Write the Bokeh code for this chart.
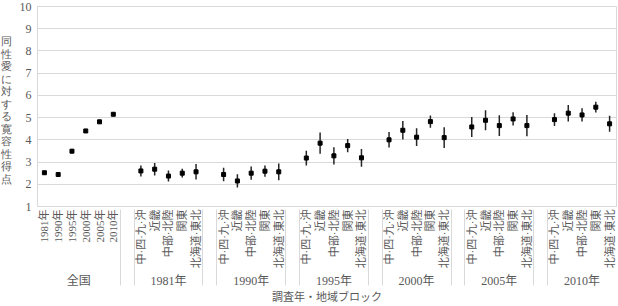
import math
from bokeh.plotting import figure
from bokeh.layouts import row
from bokeh.models import ColumnDataSource, FactorRange, Range1d, FixedTicker
from bokeh.embed import file_html
from bokeh.resources import INLINE

# ---- data ----
national_labels = ["1981年", "1990年", "1995年", "2000年", "2005年", "2010年"]
national_mean = [2.52, 2.44, 3.49, 4.40, 4.81, 5.15]
national_err = [0.08, 0.08, 0.09, 0.09, 0.09, 0.08]

regions = ["中·四·九·沖", "近畿", "中部·北陸", "関東", "北海道·東北"]
survey_years = ["1981年", "1990年", "1995年", "2000年", "2005年", "2010年"]

mean_1981 = [2.60, 2.68, 2.37, 2.50, 2.56]
err_1981 = [0.25, 0.28, 0.25, 0.20, 0.35]
mean_1990 = [2.44, 2.15, 2.50, 2.59, 2.56]
err_1990 = [0.30, 0.30, 0.30, 0.25, 0.38]
mean_1995 = [3.18, 3.85, 3.28, 3.74, 3.19]
err_1995 = [0.33, 0.48, 0.39, 0.30, 0.40]
mean_2000 = [4.00, 4.43, 4.12, 4.82, 4.10]
err_2000 = [0.35, 0.42, 0.40, 0.28, 0.47]
mean_2005 = [4.58, 4.88, 4.64, 4.94, 4.64]
err_2005 = [0.45, 0.45, 0.47, 0.30, 0.48]
mean_2010 = [4.91, 5.20, 5.12, 5.47, 4.72]
err_2010 = [0.29, 0.37, 0.30, 0.24, 0.36]

y_ticks = [1, 2, 3, 4, 5, 6, 7, 8, 9, 10]
y_title = "同性愛に対する寛容性得点"
x_title = "調査年・地域ブロック"

region_means = [mean_1981, mean_1990, mean_1995, mean_2000, mean_2005, mean_2010]
region_errs = [err_1981, err_1990, err_1995, err_2000, err_2005, err_2010]

# ---- build factors ----
factors = [("全国", lab) for lab in national_labels]
xs, ms, los, his = [], [], [], []
for lab, m, e in zip(national_labels, national_mean, national_err):
    xs.append(("全国", lab)); ms.append(m); los.append(m - e); his.append(m + e)
for i, (yr, mm, ee) in enumerate(zip(survey_years, region_means, region_errs)):
    factors.append((" " * (i + 1), " "))
    for r, m, e in zip(regions, mm, ee):
        factors.append((yr, r))
        xs.append((yr, r)); ms.append(m); los.append(m - e); his.append(m + e)

src = ColumnDataSource(dict(x=xs, m=ms, lo=los, hi=his))

FONT = "'Liberation Serif', 'Noto Sans CJK JP'"
GRAY = "#595959"
LIGHT = "#d9d9d9"

# ---- narrow panel holding the upright, vertically stacked y-axis title ----
TW = 16
t = figure(width=TW, height=306, output_backend="svg", toolbar_location=None,
           x_range=Range1d(0, 1), y_range=Range1d(0, 306),
           x_axis_location=None, y_axis_location=None,
           min_border=0, min_border_left=0, min_border_right=0,
           min_border_top=0, min_border_bottom=0)
t.outline_line_color = None
t.xgrid.visible = False
t.ygrid.visible = False
t.text(x=[0.4], y=[262], text=["\n".join(y_title)],
       text_font=FONT, text_font_size="11px", text_color=GRAY,
       text_align="center", text_baseline="top", text_line_height=1.04)

# ---- main chart ----
p = figure(width=618 - TW, height=306, output_backend="svg", toolbar_location=None,
           x_range=FactorRange(factors=factors, factor_padding=0, group_padding=0,
                               subgroup_padding=0, range_padding=0),
           y_range=Range1d(1, 10),
           min_border_left=37 - TW, min_border_right=2, min_border_top=6, min_border_bottom=0)

p.segment(x0="x", y0="lo", x1="x", y1="hi", source=src, line_color="#262626", line_width=1.5)
p.scatter(x="x", y="m", source=src, marker="square", size=4, color="black")

p.outline_line_color = LIGHT
p.background_fill_color = "white"
p.border_fill_color = "white"

p.xgrid.grid_line_color = None
p.ygrid.grid_line_color = LIGHT
p.ygrid.grid_line_width = 1

ya = p.yaxis[0]
ya.ticker = FixedTicker(ticks=y_ticks)
ya.axis_line_color = LIGHT
ya.major_tick_line_color = None
ya.minor_tick_line_color = None
ya.major_tick_out = 0
ya.major_tick_in = 0
ya.minor_tick_out = 0
ya.major_label_text_font = FONT
ya.major_label_text_font_size = "12px"
ya.major_label_text_color = GRAY
ya.major_label_standoff = 6

xa = p.xaxis[0]
xa.axis_line_color = LIGHT
xa.major_tick_line_color = None
xa.minor_tick_line_color = None
xa.major_tick_out = 0
xa.major_tick_in = 0
xa.minor_tick_out = 0
xa.major_label_orientation = math.pi / 2
xa.major_label_text_font = FONT
xa.major_label_text_font_size = "11px"
xa.major_label_text_color = GRAY
xa.major_label_standoff = 3
xa.group_text_font = FONT
xa.group_text_font_size = "12px"
xa.group_text_color = GRAY
xa.group_text_font_style = "normal"
xa.separator_line_color = LIGHT
xa.separator_line_width = 1
xa.axis_label = x_title
xa.axis_label_text_font = FONT
xa.axis_label_text_font_size = "11px"
xa.axis_label_text_font_style = "normal"
xa.axis_label_text_color = GRAY
xa.axis_label_standoff = 0

layout = row(t, p, spacing=0)
open("out.html", "w").write(file_html(layout, INLINE))
